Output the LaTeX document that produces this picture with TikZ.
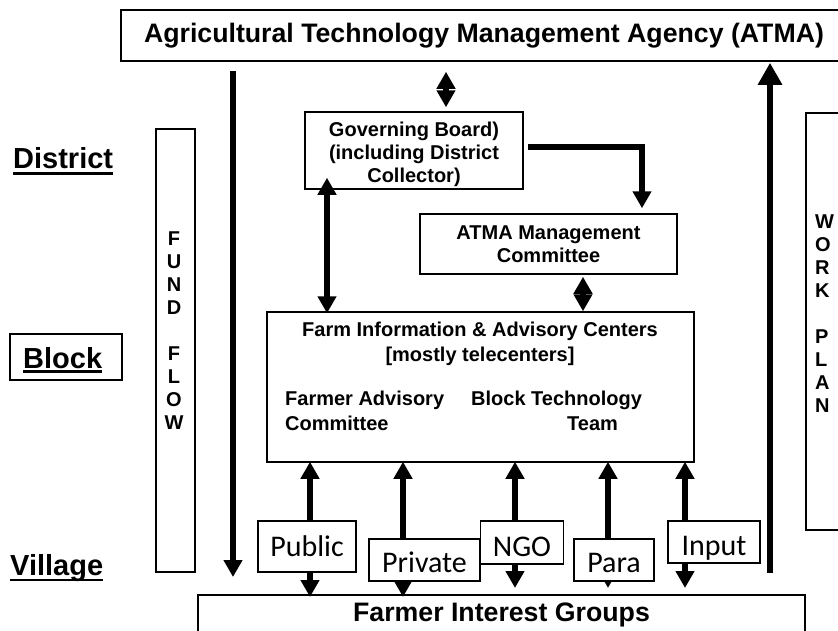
\documentclass[tikz,border=0pt]{standalone}
\usepackage{fontspec}
\setmainfont{Liberation Sans}
\newfontfamily\chanfont{Carlito}
\usetikzlibrary{arrows.meta}
\usetikzlibrary{positioning}

\begin{document}
\begin{tikzpicture}[x=1pt, y=-1pt,
    box/.style={draw, line width=1.5pt, inner sep=0pt},
    btxt/.style={font=\bfseries\fontsize{20}{23}\selectfont, align=center, inner sep=0pt},
    widetxt/.style={font=\bfseries\fontsize{20}{25}\selectfont, align=center, inner sep=0pt},
    bigtxt/.style={font=\bfseries\fontsize{26.7}{30}\selectfont, inner sep=0pt},
    lvl/.style={font=\bfseries\fontsize{29}{33}\selectfont, inner sep=0pt, anchor=base west},
    uline/.style={line width=2.8pt},
    chan/.style={box, fill=white, font=\chanfont\fontsize{30}{34}\selectfont, text height=22pt, text depth=3pt},
    flow/.style={line width=5.5pt, -{Triangle[length=17pt, width=18pt]}},
    bigflow/.style={line width=6.5pt, -{Triangle[length=22pt, width=23pt]}},
    twoway/.style={line width=5.5pt, {Triangle[length=17pt, width=18pt]}-{Triangle[length=17pt, width=18pt]}}]

        \useasboundingbox (0,0) rectangle (838,630);
        \clip (0,0) rectangle (838,630);

        % Boxes of the three levels
        \node[box, bigtxt, minimum width=726pt, minimum height=51pt] (atma) at (484,35.5) {Agricultural Technology Management Agency (ATMA)};
        \node[box, minimum width=218pt, minimum height=77pt] (gov) at (414,150.5) {};
        \node[btxt] (govtxt) at (414,154) {Governing Board)\\(including District\\Collector)};
        \node[box, btxt, minimum width=257pt, minimum height=60pt] (mgmt) at (548.5,244) {ATMA Management\\Committee};
        \node[box, minimum width=427pt, minimum height=150pt] (farm) at (480.5,387) {};
        \node[widetxt] (farmtitle) at (480,344) {Farm Information \& Advisory Centers\\{[mostly telecenters]}};
        \node[widetxt, align=left, anchor=west] (fac) at (285,411) {Farmer Advisory\\Committee};
        \node[widetxt, align=left, anchor=west] (btt) at (471,411) {Block Technology\\\hspace*{96pt}Team};
        \node[box, bigtxt, minimum width=607pt, minimum height=40pt, anchor=north] (fig) at (501.5,594) {Farmer Interest Groups};

        % Level labels
        \node[lvl] (district) at (13,168) {District};
        \draw[uline] ([yshift=-5.5pt]district.base west) -- ([yshift=-5.5pt]district.base east);
        \node[box, minimum width=112pt, minimum height=46pt] (blockbox) at (66,357) {};
        \node[lvl] (block) at (23,368) {Block};
        \draw[uline] ([yshift=-3.5pt]block.base west) -- ([yshift=-3.5pt]block.base east);
        \node[lvl] (village) at (10,575) {Village};
        \draw[uline] ([yshift=-5pt]village.base west) -- ([yshift=-5pt]village.base east);

        % Side columns
        \node[box, minimum width=39pt, minimum height=443pt] (fund) at (175.5,350.5) {};
        \node[btxt] (fundtxt) at (174,331) {F\\U\\N\\D\\[23pt]F\\L\\O\\W};
        \node[box, minimum width=60pt, minimum height=417pt, anchor=north west] (work) at (805,112) {};
        \node[btxt, align=left, anchor=west] (worktxt) at (815,314) {W\\O\\R\\K\\[23pt]P\\L\\A\\N};

        % Main flows
        \coordinate (fundx) at (233,0);
        \coordinate (planx) at (770,0);
        \draw[flow, shorten <=9pt, shorten >=17pt] (atma.south -| fundx) -- (fig.north -| fundx);
        \draw[bigflow, shorten <=21pt, shorten >=1pt] (fig.north -| planx) -- (atma.south -| planx);

        \coordinate (topx) at (446,0);
        \coordinate (govx) at (327,0);
        \coordinate (mgmtx) at (642,0);
        \coordinate (farmx) at (583,0);
        \draw[twoway, shorten <=10pt, shorten >=4pt] (atma.south -| topx) -- (gov.north -| topx);
        \draw[flow, shorten >=5pt] ([xshift=4pt, yshift=3.5pt]gov.east) -| (mgmt.north -| mgmtx);
        \draw[twoway, shorten <=-12pt, shorten >=-2pt] (gov.south -| govx) -- (farm.north -| govx);
        \draw[twoway, shorten <=2pt] (mgmt.south -| farmx) -- (farm.north -| farmx);

        % Channels between centers and farmers
        \coordinate (pubx) at (310,0);
        \coordinate (privx) at (403,0);
        \coordinate (ngox) at (515,0);
        \coordinate (parax) at (608,0);
        \coordinate (inpx) at (685,0);
        \draw[twoway, shorten <=-1pt, shorten >=-3pt] (farm.south -| pubx) -- (fig.north -| pubx);
        \draw[twoway, shorten <=-1pt, shorten >=-3pt] (farm.south -| privx) -- (fig.north -| privx);
        \draw[twoway, shorten <=-1pt, shorten >=6pt] (farm.south -| ngox) -- (fig.north -| ngox);
        \draw[twoway, shorten <=-1pt, shorten >=6pt] (farm.south -| parax) -- (fig.north -| parax);
        \draw[twoway, shorten <=-1pt, shorten >=6pt] (farm.south -| inpx) -- (fig.north -| inpx);

        \node[chan, minimum width=98pt, minimum height=51pt] (pub) at (307,546.5) {Public};
        \node[chan, text height=27pt, minimum width=111pt, minimum height=42pt] (priv) at (424.5,560) {Private};
        \node[chan, text height=30pt, minimum width=83pt, minimum height=43pt] (ngo) at (522,542.5) {NGO};
        \node[chan, text height=27pt, minimum width=80pt, minimum height=42pt] (para) at (614,560) {Para};
        \node[chan, text height=30pt, minimum width=92pt, minimum height=42pt] (inp) at (714,542) {Input};
    \end{tikzpicture}
\end{document}
